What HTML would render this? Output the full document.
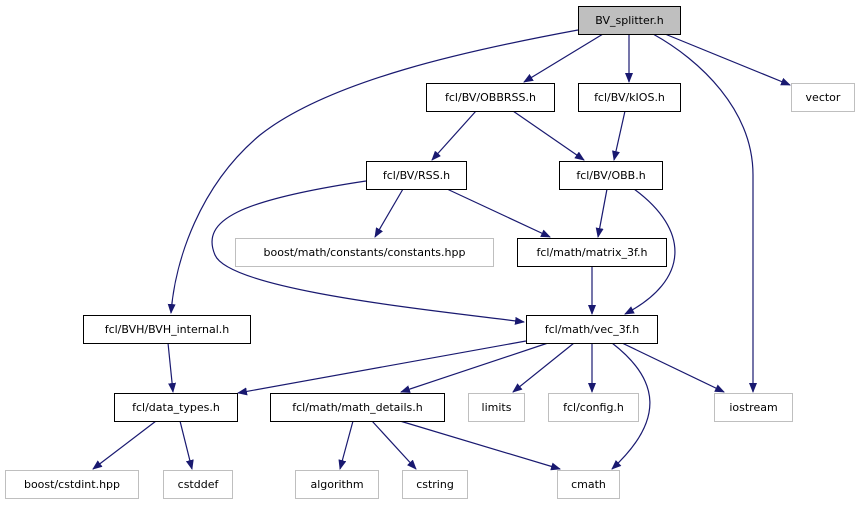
<!DOCTYPE html>
<html><head><meta charset="utf-8"><style>
html,body{margin:0;padding:0;background:#fff;}
svg text{font-family:"DejaVu Sans","Liberation Sans",sans-serif;font-size:11px;fill:#000;}
</style></head><body>
<svg width="859" height="504" viewBox="0 0 859 504" xmlns="http://www.w3.org/2000/svg">
<defs><marker id="a" markerWidth="10" markerHeight="8" refX="9" refY="4" orient="auto" markerUnits="userSpaceOnUse"><path d="M0,0 L10,4 L0,8 Z" fill="#191970"/></marker></defs>
<g fill="none" stroke="#191970" stroke-width="1.2" marker-end="url(#a)">
<path d="M578,30 C470,50 330,80 260,135 C200,185 175,260 171,313"/>
<path d="M603,34 L524,82"/>
<path d="M629,34 L629,82"/>
<path d="M653,34 C700,60 753,110 753,175 L753,392"/>
<path d="M665,34 L790,85"/>
<path d="M476,111 L432,160"/>
<path d="M513,111 L584,160"/>
<path d="M625,111 L614,160"/>
<path d="M403,189 L375,237"/>
<path d="M447,189 L550,237"/>
<path d="M366,181 C240,200 200,220 215,255 C230,290 430,310 524,322"/>
<path d="M607,189 L598,237"/>
<path d="M634,189 C690,230 690,280 625,314"/>
<path d="M592,266 L592,314"/>
<path d="M526,341 L238,393"/>
<path d="M548,343 L401,392"/>
<path d="M574,343 L513,392"/>
<path d="M592,343 L592,392"/>
<path d="M612,343 C660,380 665,420 612,469"/>
<path d="M622,343 L724,392"/>
<path d="M168,343 L173,392"/>
<path d="M156,421 L93,469"/>
<path d="M180,421 L192,469"/>
<path d="M353,421 L340,469"/>
<path d="M372,421 L416,469"/>
<path d="M400,421 L560,469"/>
</g>
<g stroke-width="1">
<rect x="578.5" y="6.5" width="102" height="28" fill="#bfbfbf" stroke="#000"/>
<rect x="426.5" y="83.5" width="128" height="28" fill="#fff" stroke="#000"/>
<rect x="578.5" y="83.5" width="102" height="28" fill="#fff" stroke="#000"/>
<rect x="791.5" y="83.5" width="63" height="28" fill="#fff" stroke="#bfbfbf"/>
<rect x="366.5" y="161.5" width="100" height="28" fill="#fff" stroke="#000"/>
<rect x="559.5" y="161.5" width="103" height="28" fill="#fff" stroke="#000"/>
<rect x="235.5" y="238.5" width="258" height="28" fill="#fff" stroke="#bfbfbf"/>
<rect x="517.5" y="238.5" width="149" height="28" fill="#fff" stroke="#000"/>
<rect x="526.5" y="315.5" width="131" height="28" fill="#fff" stroke="#000"/>
<rect x="83.5" y="315.5" width="167" height="28" fill="#fff" stroke="#000"/>
<rect x="114.5" y="393.5" width="123" height="28" fill="#fff" stroke="#000"/>
<rect x="270.5" y="393.5" width="174" height="28" fill="#fff" stroke="#000"/>
<rect x="468.5" y="393.5" width="56" height="28" fill="#fff" stroke="#bfbfbf"/>
<rect x="548.5" y="393.5" width="90" height="28" fill="#fff" stroke="#bfbfbf"/>
<rect x="714.5" y="393.5" width="78" height="28" fill="#fff" stroke="#bfbfbf"/>
<rect x="5.5" y="470.5" width="133" height="28" fill="#fff" stroke="#bfbfbf"/>
<rect x="163.5" y="470.5" width="69" height="28" fill="#fff" stroke="#bfbfbf"/>
<rect x="295.5" y="470.5" width="83" height="28" fill="#fff" stroke="#bfbfbf"/>
<rect x="402.5" y="470.5" width="65" height="28" fill="#fff" stroke="#bfbfbf"/>
<rect x="557.5" y="470.5" width="62" height="28" fill="#fff" stroke="#bfbfbf"/>
</g>
<g text-anchor="middle">
<text x="629.5" y="24">BV_splitter.h</text>
<text x="490.5" y="101">fcl/BV/OBBRSS.h</text>
<text x="629.5" y="101">fcl/BV/kIOS.h</text>
<text x="823" y="101">vector</text>
<text x="416.5" y="179">fcl/BV/RSS.h</text>
<text x="611" y="179">fcl/BV/OBB.h</text>
<text x="364.5" y="256">boost/math/constants/constants.hpp</text>
<text x="592" y="256">fcl/math/matrix_3f.h</text>
<text x="592" y="333">fcl/math/vec_3f.h</text>
<text x="167" y="333">fcl/BVH/BVH_internal.h</text>
<text x="176" y="411">fcl/data_types.h</text>
<text x="357.5" y="411">fcl/math/math_details.h</text>
<text x="496.5" y="411">limits</text>
<text x="593.5" y="411">fcl/config.h</text>
<text x="753.5" y="411">iostream</text>
<text x="72" y="488">boost/cstdint.hpp</text>
<text x="198" y="488">cstddef</text>
<text x="337" y="488">algorithm</text>
<text x="435" y="488">cstring</text>
<text x="588.5" y="488">cmath</text>
</g>
</svg>
</body></html>
